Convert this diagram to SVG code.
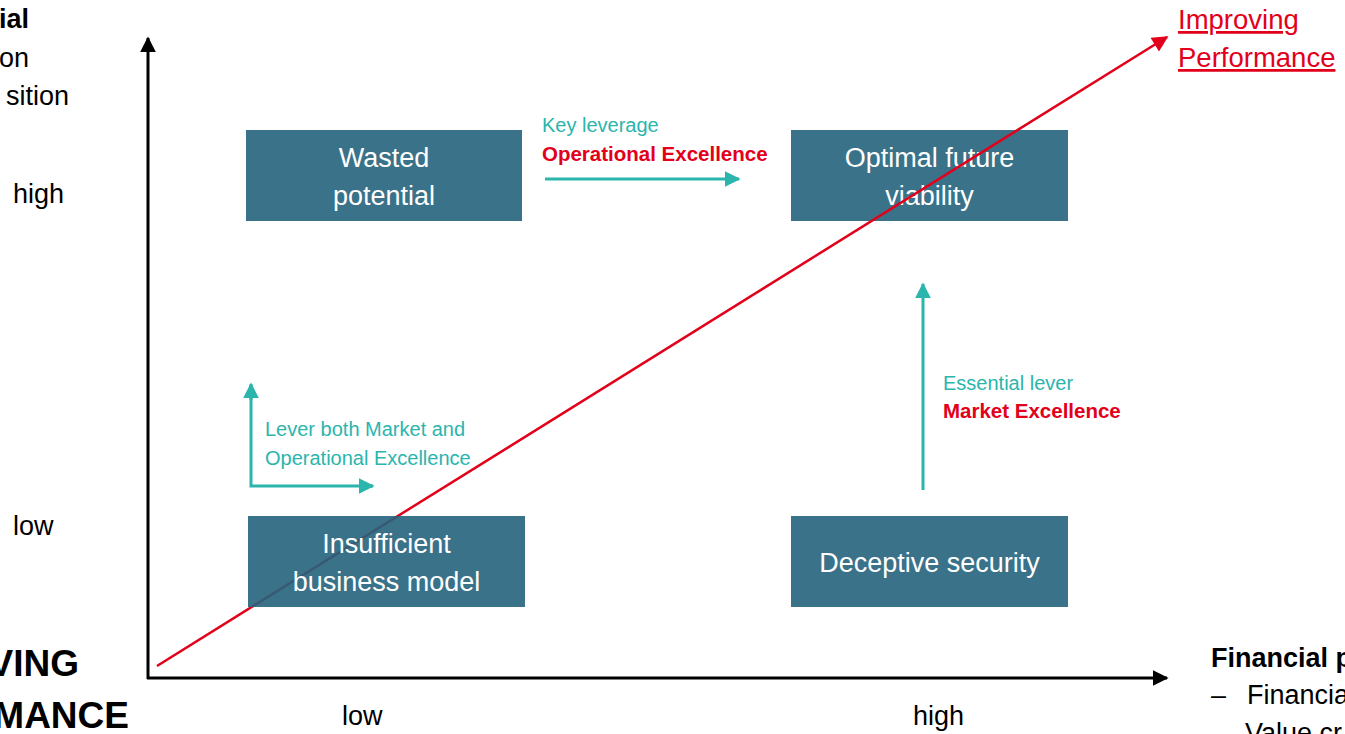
<svg xmlns="http://www.w3.org/2000/svg" width="1345" height="734" viewBox="0 0 1345 734">
  <style>
    text { font-family: "Liberation Sans", Arial, sans-serif; }
    .box { fill: #25637c; fill-opacity: 0.9; }
    .boxtxt { fill: #ffffff; font-size: 27px; text-anchor: middle; }
    .axislbl { fill: #000000; font-size: 27px; }
    .teal { fill: #2bb5ad; font-size: 20px; }
    .redb { fill: #e2001a; font-size: 20.5px; font-weight: bold; }
    .axis { stroke: #000000; stroke-width: 3; fill: none; }
    .lever { stroke: #2bb5ad; stroke-width: 3; fill: none; }
    .trend { stroke: #e2001a; stroke-width: 2.5; fill: none; }
  </style>
  <defs>
    <marker id="ahBlack" viewBox="0 0 10 10" refX="9" refY="5" markerWidth="16" markerHeight="16" markerUnits="userSpaceOnUse" orient="auto">
      <path d="M0,0 L10,5 L0,10 z" fill="#000000"/>
    </marker>
    <marker id="ahTeal" viewBox="0 0 10 10" refX="9" refY="5" markerWidth="16" markerHeight="16" markerUnits="userSpaceOnUse" orient="auto">
      <path d="M0,0 L10,5 L0,10 z" fill="#2bb5ad"/>
    </marker>
    <marker id="ahRed" viewBox="0 0 10 10" refX="9" refY="5" markerWidth="18" markerHeight="16" markerUnits="userSpaceOnUse" orient="auto">
      <path d="M0,0 L10,5 L0,10 z" fill="#e2001a"/>
    </marker>
  </defs>

  <!-- axis captions, partly running off the page edge -->
  <g id="axis-labels">
    <text x="29" y="28" class="axislbl" text-anchor="end" font-weight="bold">ial</text>
    <text x="29" y="67" class="axislbl" text-anchor="end">on</text>
    <text x="69" y="105" class="axislbl" text-anchor="end">sition</text>
    <text x="13" y="203" class="axislbl">high</text>
    <text x="13" y="535" class="axislbl">low</text>
    <text x="79" y="676" font-size="37" font-weight="bold" text-anchor="end">VING</text>
    <text x="129" y="728" font-size="37" font-weight="bold" text-anchor="end">MANCE</text>
    <text x="342" y="725" class="axislbl">low</text>
    <text x="913" y="725" class="axislbl">high</text>
    <text x="1211" y="667" class="axislbl" font-weight="bold">Financial p</text>
    <text x="1211" y="704" class="axislbl">–</text>
    <text x="1247" y="704" class="axislbl">Financia</text>
    <text x="1245" y="742" class="axislbl">Value cr</text>
    <text x="1178" y="29" font-size="27.5" fill="#e2001a" text-decoration="underline">Improving</text>
    <text x="1178" y="67" font-size="27.5" fill="#e2001a" text-decoration="underline">Performance</text>
  </g>

  <!-- upper and right quadrant nodes (the trend line passes over them) -->
  <g id="node-wasted">
    <rect class="box" x="246" y="130" width="276" height="91"/>
    <text class="boxtxt" x="384" y="167">Wasted</text>
    <text class="boxtxt" x="384" y="205">potential</text>
  </g>
  <g id="node-optimal">
    <rect class="box" x="791" y="130" width="277" height="91"/>
    <text class="boxtxt" x="929.5" y="167">Optimal future</text>
    <text class="boxtxt" x="929.5" y="205">viability</text>
  </g>
  <g id="node-deceptive">
    <rect class="box" x="791" y="516" width="277" height="91"/>
    <text class="boxtxt" x="929.5" y="572">Deceptive security</text>
  </g>

  <!-- axes, trend line and lever arrows -->
  <g id="connectors">
    <line class="axis" x1="148" y1="679" x2="148" y2="38" marker-end="url(#ahBlack)"/>
    <line class="axis" x1="147" y1="678" x2="1167" y2="678" marker-end="url(#ahBlack)"/>
    <line class="trend" x1="157" y1="666" x2="1167" y2="37" marker-end="url(#ahRed)"/>
    <line class="lever" x1="545" y1="179" x2="739" y2="179" marker-end="url(#ahTeal)"/>
    <line class="lever" x1="923" y1="490" x2="923" y2="284" marker-end="url(#ahTeal)"/>
    <polyline class="lever" points="251,385 251,486 372,486"/>
    <line class="lever" x1="251" y1="400" x2="251" y2="384" marker-end="url(#ahTeal)"/>
    <line class="lever" x1="360" y1="486" x2="373" y2="486" marker-end="url(#ahTeal)"/>
  </g>

  <!-- lower-left node, translucent over the start of the trend line -->
  <g id="node-insufficient">
    <rect class="box" x="248" y="516" width="277" height="91"/>
    <text class="boxtxt" x="386.5" y="553">Insufficient</text>
    <text class="boxtxt" x="386.5" y="591">business model</text>
  </g>

  <!-- lever annotations -->
  <g id="lever-labels">
    <text class="teal" x="542" y="132">Key leverage</text>
    <text class="redb" x="542" y="161">Operational Excellence</text>
    <text class="teal" x="943" y="390">Essential lever</text>
    <text class="redb" x="943" y="418">Market Excellence</text>
    <text class="teal" x="265" y="436">Lever both Market and</text>
    <text class="teal" x="265" y="465">Operational Excellence</text>
  </g>
</svg>
